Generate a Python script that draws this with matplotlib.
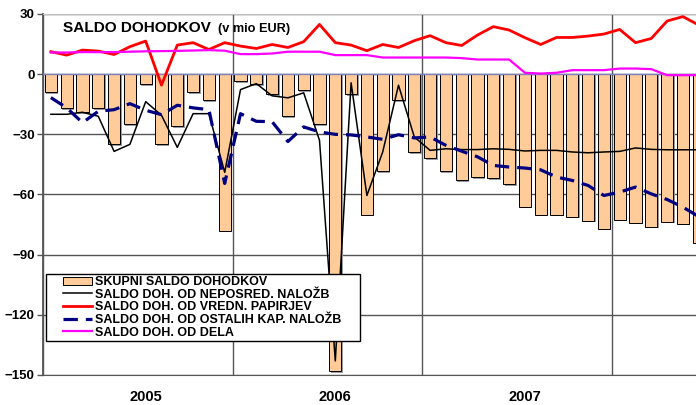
import matplotlib
matplotlib.use("Agg")
import matplotlib.pyplot as plt
import numpy as np
from matplotlib.container import BarContainer
from matplotlib.lines import Line2D
from matplotlib.legend_handler import HandlerPatch, HandlerLine2D, update_from_first_child

plt.rcParams['font.family'] = ['Liberation Sans', 'DejaVu Sans']
plt.rcParams['font.weight'] = 'bold'

year_labels = ['2005', '2006', '2007']
year_label_pos = [6, 18, 30]
year_bounds = [-0.5, 11.5, 23.5, 35.5]

skupni = [-9, -17, -19, -17, -35, -25, -5, -35, -26, -9, -13, -78,
          -3.5, -5, -10, -21, -8, -25, -148, -10, -70, -48.5, -13, -39,
          -42, -48.5, -53, -51.5, -52, -55, -66, -70, -70, -71, -73, -77,
          -72.5, -74, -76, -73.5, -74.5, -84]
neposred = [-20, -20, -19, -21, -38.5, -35, -13.7, -20.5, -36.5, -19.7, -19.7, -49,
            -7.7, -4.7, -10.8, -11.8, -9.3, -33, -143, -4.3, -60.5, -38.8, -5.5, -31.3,
            -38, -37.2, -37.6, -37.6, -37.2, -37.5, -38.3, -38, -38, -38.8, -39.2, -38.8,
            -38.5, -36.8, -37.5, -37.7, -37.7, -37.7]
vredn = [11.2, 9.5, 12, 11.5, 9.8, 13.7, 16.5, -5.5, 14.5, 15.7, 12.3, 15.7,
         14, 12.8, 14.8, 13.3, 16.2, 24.8, 15.7, 14.5, 11.7, 14.8, 13.3, 16.7,
         19.2, 15.7, 14.3, 19.5, 23.7, 22, 18.2, 14.8, 18.3, 18.3, 19, 20,
         22.3, 15.7, 17.8, 26.5, 28.7, 24.5]
ostalih = [-11.7, -16.8, -24.2, -18.5, -17.7, -14.7, -18, -20.2, -15.5, -16.8, -17.7, -54.5,
           -19.7, -23.5, -23.7, -33.6, -26.3, -28.8, -30, -30.3, -31.3, -32.5, -30.2, -31.8,
           -31.3, -35.5, -38.4, -41.2, -45.5, -46.3, -46.8, -47.7, -51.3, -53, -55.5, -60.5,
           -58.8, -56.3, -59.7, -62.5, -66.3, -71]
dela = [10.8, 10.8, 11, 11, 11, 11.2, 11.4, 11.5, 11.6, 11.8, 12, 11.7,
        10, 10, 10.3, 11.2, 11.2, 11.2, 9.5, 9.5, 9.5, 8.3, 8.3, 8.3,
        8.3, 8.3, 8, 7.3, 7.3, 7.3, 0.7, 0.3, 0.7, 2, 2, 2,
        2.8, 2.8, 2.5, -0.5, -0.5, -0.5]

labels = ['SKUPNI SALDO DOHODKOV', 'SALDO DOH. OD NEPOSRED. NALOŽB',
          'SALDO DOH. OD VREDN. PAPIRJEV', 'SALDO DOH. OD OSTALIH KAP. NALOŽB',
          'SALDO DOH. OD DELA']

x = np.arange(len(skupni))

fig = plt.figure(figsize=(6.96, 4.05), dpi=100)
ax = fig.add_axes([43/696, 1 - 375/405, 1 - 43/696, (375 - 14)/405])

# shadow of bars
ax.bar(x + 0.1, np.array(skupni) - 0.8, width=0.76, color='#9a9a9a', zorder=1.5, linewidth=0)
h0 = ax.bar(x, skupni, width=0.76, color='#FFCC99', edgecolor='black', linewidth=0.7,
            zorder=2, label=labels[0])
h1, = ax.plot(x, neposred, color='black', lw=1.1, zorder=4, label=labels[1])
h2, = ax.plot(x, vredn, color='#FF0000', lw=2.0, zorder=4, label=labels[2])
h3, = ax.plot(x, ostalih, color='#000080', lw=2.3, dashes=(4.5, 2.5), zorder=4, label=labels[3])
h4, = ax.plot(x, dela, color='#FF00FF', lw=1.6, zorder=4, label=labels[4])

ax.axhline(0, color='#8080c0', lw=1.0, zorder=3)

ax.set_ylim(-150, 30)
ax.set_xlim(-0.5, -0.5 + 653 / 15.8)
ax.set_yticks(np.arange(-150, 31, 30))
ax.tick_params(axis='y', labelsize=9.5, length=4, width=1, color='#555555', pad=2)
for t in ax.get_yticklabels():
    t.set_fontweight('bold')
ax.yaxis.grid(True, color='#555555', lw=1.0, zorder=0)
ax.set_axisbelow(True)
for b in year_bounds:
    ax.axvline(b, color='#555555', lw=1.0, zorder=0.5)

ax.set_xticks(year_label_pos)
ax.set_xticklabels(year_labels, fontsize=10.5, fontweight='bold')
ax.tick_params(axis='x', length=0, pad=10.5)

ax.spines['right'].set_visible(False)
ax.spines['top'].set_color('#c0c0c0')
ax.spines['left'].set_color('#555555')
ax.spines['left'].set_linewidth(1.3)
ax.spines['bottom'].set_color('#555555')

fig.text(63/696, 1 - 32/405, 'SALDO DOHODKOV', fontsize=11.1, fontweight='bold',
         va='baseline', ha='left', zorder=10)
fig.text(218/696, 1 - 32/405, '(v mio EUR)', fontsize=9.2, fontweight='bold',
         va='baseline', ha='left', zorder=10)

fs = 9
xpad = 1.16
hmap = {BarContainer: HandlerPatch(update_func=update_from_first_child, xpad=xpad),
        Line2D: HandlerLine2D(xpad=xpad)}
leg = ax.legend([h0, h1, h2, h3, h4], labels,
                loc='lower left', bbox_to_anchor=((46-43)/653, (375-341)/361, (360-46)/653, (341-270)/361),
                mode='expand', fontsize=fs, frameon=True, fancybox=False, shadow=False,
                handlelength=3.5, handletextpad=0.25, borderpad=0.2, labelspacing=0.05,
                borderaxespad=0, handler_map=hmap, handleheight=0.6)
leg.get_frame().set_edgecolor('black')
leg.get_frame().set_linewidth(1.0)
leg.get_frame().set_alpha(1)
leg.set_zorder(10)
for t in leg.get_texts():
    t.set_fontweight('bold')

fig.savefig('out.png', dpi=100)
